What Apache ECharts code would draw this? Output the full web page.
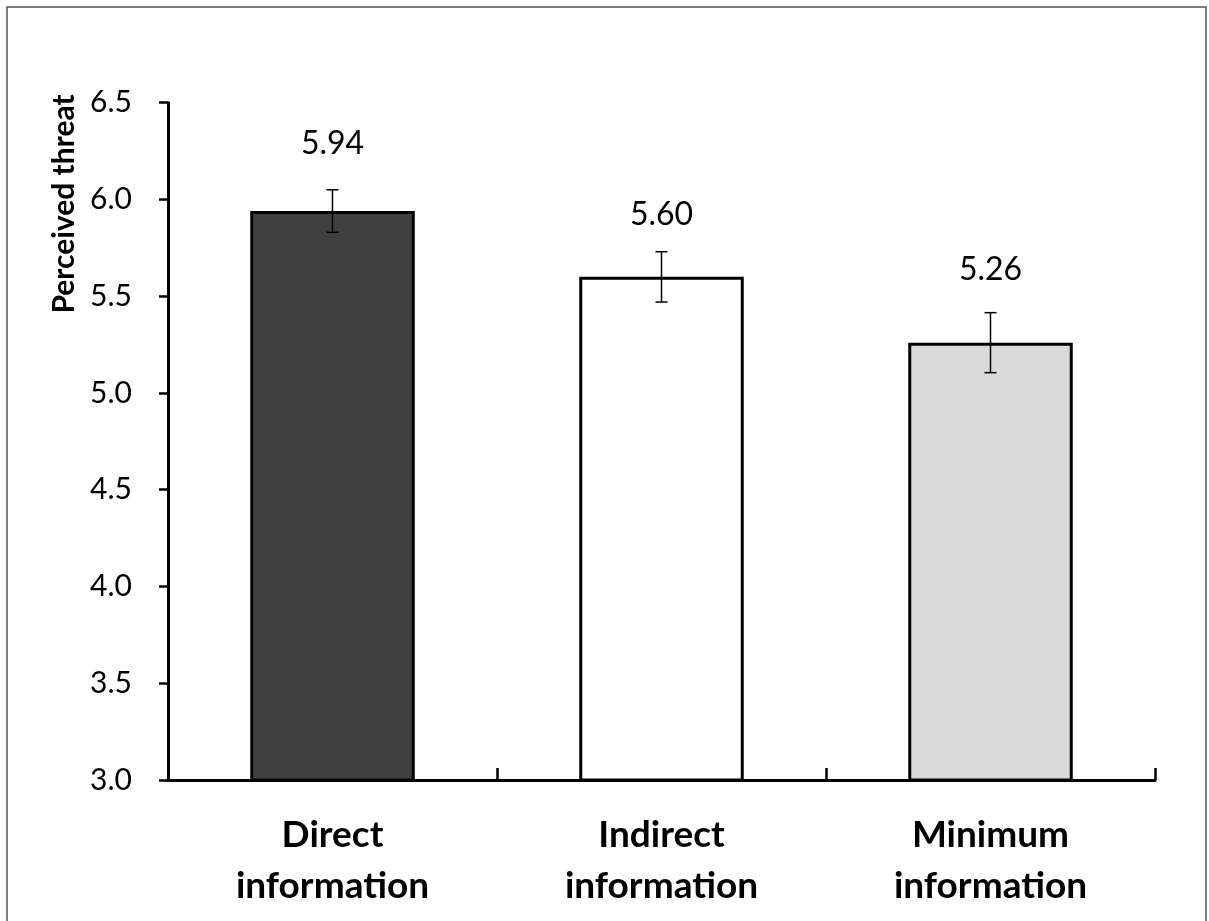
<!DOCTYPE html>
<html><head><meta charset="utf-8">
<script src="https://cdn.jsdelivr.net/npm/echarts@6/dist/echarts.min.js"></script>
<style>html,body{margin:0;padding:0;background:#fff}#c{width:1209px;height:921px}</style>
</head><body><div id="c"></div>
<script>
const categories = ['Direct\ninformation', 'Indirect\ninformation', 'Minimum\ninformation'];
const means = [5.94, 5.60, 5.26];
const errors = [0.11, 0.13, 0.155];
const barColors = ['#404040', '#ffffff', '#d9d9d9'];
const yTicks = ['3.0','3.5','4.0','4.5','5.0','5.5','6.0','6.5'];
const FONT = 'Lato, "Open Sans", sans-serif';

const chart = echarts.init(document.getElementById('c'), null, {renderer: 'canvas'});
const labelDistances = [51, 46, 57];
chart.setOption({
  animation: false,
  backgroundColor: '#fff',
  graphic: [
    {type: 'rect', shape: {x: 7, y: 7, width: 1199, height: 930}, style: {fill: 'none', stroke: '#555', lineWidth: 1.5}, silent: true},
    {type: 'text', x: 64, y: 204, rotation: Math.PI / 2,
      style: {text: 'Perceived threat', fontFamily: FONT, fontWeight: 'bold', fontSize: 30, fill: '#000', align: 'center', verticalAlign: 'middle'}}
  ],
  grid: {left: 168, right: 54, top: 102.7, bottom: 141},
  xAxis: {
    type: 'category', data: categories,
    axisLine: {lineStyle: {color: '#000', width: 3}},
    axisTick: {show: true, inside: true, length: 12, lineStyle: {color: '#000', width: 2.5}},
    axisLabel: {color: '#000', fontFamily: FONT, fontWeight: 'bold', fontSize: 37, lineHeight: 51, margin: 30}
  },
  yAxis: {
    type: 'value', min: 3, max: 6.5, interval: 0.5,
    axisLine: {show: true, lineStyle: {color: '#000', width: 3}},
    axisTick: {show: true, length: 9, lineStyle: {color: '#000', width: 2.5}},
    splitLine: {show: false},
    axisLabel: {color: '#000', fontFamily: FONT, fontSize: 30, margin: 36,
      formatter: v => yTicks[Math.round((v - 3) / 0.5)] }
  },
  series: [
    {
      type: 'bar', barWidth: '50%',
      data: means.map((v, i) => ({value: v,
        itemStyle: {color: barColors[i], borderColor: '#000', borderWidth: 3},
        label: {distance: labelDistances[i]}})),
      label: {show: true, position: 'top', color: '#000', fontFamily: FONT, fontSize: 32,
        formatter: p => p.value.toFixed(2)},
      z: 2
    },
    {
      type: 'custom', z: 5,
      data: means.map((v, i) => [i, v - errors[i], v + errors[i]]),
      renderItem: (params, api) => {
        const lo = api.coord([api.value(0), api.value(1)]);
        const hi = api.coord([api.value(0), api.value(2)]);
        const x = lo[0], w = 6;
        const st = {stroke: '#000', lineWidth: 1.5};
        return {type: 'group', children: [
          {type: 'line', shape: {x1: x, y1: lo[1], x2: x, y2: hi[1]}, style: st},
          {type: 'line', shape: {x1: x - w, y1: lo[1], x2: x + w, y2: lo[1]}, style: st},
          {type: 'line', shape: {x1: x - w, y1: hi[1], x2: x + w, y2: hi[1]}, style: st}
        ]};
      }
    }
  ]
});
</script></body></html>
